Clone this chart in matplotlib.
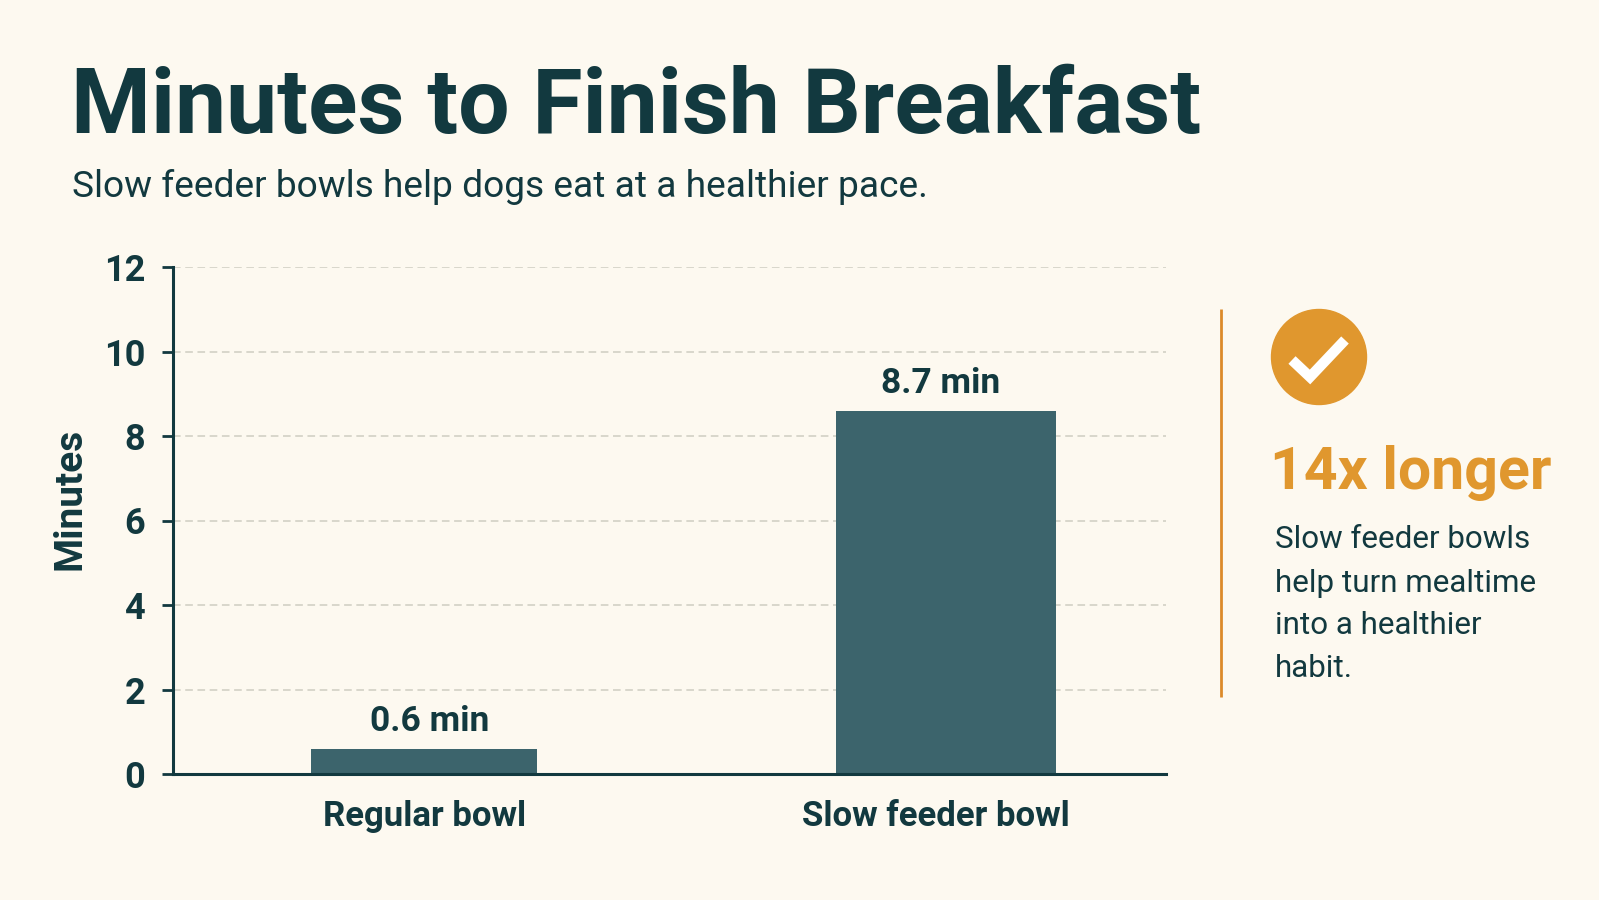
import matplotlib
matplotlib.use('Agg')
import matplotlib.pyplot as plt
from matplotlib.patches import Circle

# data
categories = ['Regular bowl', 'Slow feeder bowl']
minutes = [0.6, 8.6]
bar_labels = ['0.6 min', '8.7 min']
bar_widths = [0.433, 0.422]
y_ticks = [0, 2, 4, 6, 8, 10, 12]
note_lines = ['Slow feeder bowls', 'help turn mealtime', 'into a healthier', 'habit.']

bg = '#fdf9f0'
dark = '#12393f'
teal = '#3c646c'
orange = '#e0972e'
font = ['Roboto', 'DejaVu Sans']

W, H = 1599, 900
fig = plt.figure(figsize=(W / 100, H / 100), dpi=100, facecolor=bg)

# chart area in pixels: x 173..1166, y 267..774
ax = fig.add_axes([173 / W, 1 - 774 / H, 993 / W, 507 / H], facecolor='none')
pos = [0, 1]
ax.bar(pos, minutes, width=bar_widths, color=teal, zorder=3)
ax.set_xlim(-0.481, 1.421)
ax.set_ylim(0, 12)
ax.set_yticks(y_ticks)
ax.set_xticks([0, 0.98])
ax.set_xticklabels(categories, family=font, fontsize=25, fontweight='bold', color=dark)
ax.set_yticklabels([str(t) for t in y_ticks], family=font, fontsize=26, fontweight='bold', color=dark)
ax.tick_params(axis='y', length=8, width=2, color=dark, pad=12)
ax.tick_params(axis='x', length=0, pad=19)
ax.yaxis.grid(True, color='#cfcdc2', linestyle=(0, (5, 3)), linewidth=1.1, zorder=1)
for s in ['top', 'right']:
    ax.spines[s].set_visible(False)
for s in ['left', 'bottom']:
    ax.spines[s].set_color(dark)
    ax.spines[s].set_linewidth(2.2)
    ax.spines[s].set_zorder(4)
ax.set_axisbelow(True)
ax.set_ylabel('Minutes', family=font, fontsize=28, fontweight='bold', color=dark)
ax.yaxis.set_label_coords(-0.085, 0.542)

for x, y, lab, dx in zip(pos, minutes, bar_labels, [4, -4]):
    ax.annotate(lab, (x, y), xytext=(dx, 8), textcoords='offset points', ha='center', va='bottom',
                family=font, fontsize=25.5, fontweight='bold', color=dark)

# overlay in pixel coordinates for title and side panel
ov = fig.add_axes([0, 0, 1, 1], facecolor='none')
ov.set_xlim(0, W)
ov.set_ylim(H, 0)
ov.axis('off')

ov.text(71, 133, 'Minutes to Finish Breakfast', family=font, fontsize=65.7, fontweight='bold',
        color=dark, va='baseline')
ov.text(72, 197, 'Slow feeder bowls help dogs eat at a healthier pace.', family=font, fontsize=26.7,
        color=dark, va='baseline')

ov.plot([1221, 1221], [309, 697], color='#dc8a2a', linewidth=2, solid_capstyle='butt')
ov.add_patch(Circle((1319, 357), 47.5, color=orange))
ov.plot([1292, 1310, 1345], [360, 377, 340], color='white', linewidth=7.5, solid_joinstyle='miter',
        solid_capstyle='butt')
ov.text(1270, 489, '14x longer', family=font, fontsize=42.5, fontweight='bold', color=orange, va='baseline')
for line, base in zip(note_lines, [548, 592, 634, 677]):
    ov.text(1275, base, line, family=font, fontsize=22.6, color=dark, va='baseline')

fig.savefig('out.png', dpi=100, facecolor=bg)
